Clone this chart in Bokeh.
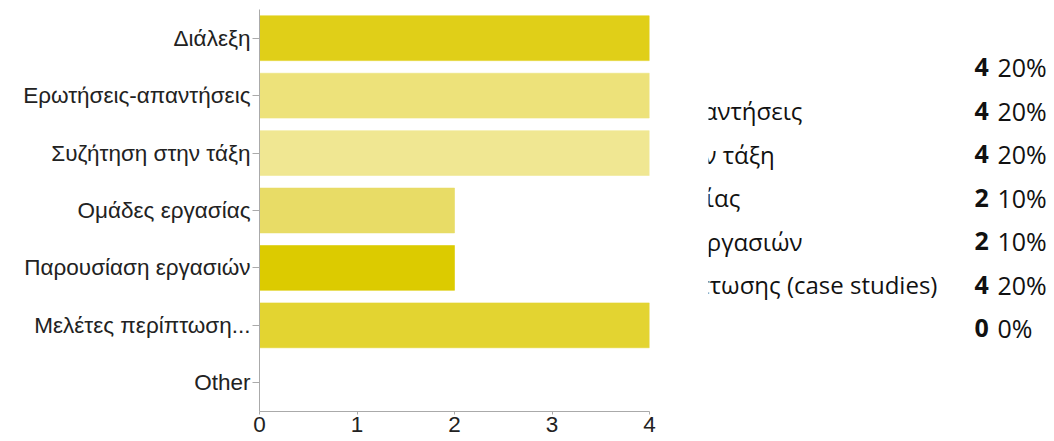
from bokeh.plotting import figure
from bokeh.layouts import row
from bokeh.models import Range1d, FactorRange, ColumnDataSource, FixedTicker
from bokeh.core.properties import value
from bokeh.embed import file_html
from bokeh.resources import INLINE

# ---- data ----
categories = ["Διάλεξη", "Ερωτήσεις-απαντήσεις", "Συζήτηση στην τάξη",
              "Ομάδες εργασίας", "Παρουσίαση εργασιών", "Μελέτες περίπτωση...", "Other"]
full_labels = ["Διάλεξη", "Ερωτήσεις-απαντήσεις", "Συζήτηση στην τάξη",
               "Ομάδες εργασίας", "Παρουσίαση εργασιών",
               "Μελέτες περίπτωσης (case studies)", "Other"]
counts = [4, 4, 4, 2, 2, 4, 0]
percents = ["20%", "20%", "20%", "10%", "10%", "20%", "0%"]
bar_colors = ["#E0CF18", "#EDE27A", "#F0E792", "#E8DC66", "#DCCB00", "#E3D431", "#E0CF18"]
x_ticks = [0, 1, 2, 3, 4]

FIG_H = 440
TOP, BOTTOM = 9, 29
FRAME_H = FIG_H - TOP - BOTTOM

# ---- left: bar chart ----
src = ColumnDataSource(dict(cat=categories, count=counts, color=bar_colors))

p = figure(width=708, height=FIG_H, output_backend="svg", toolbar_location=None,
           y_range=FactorRange(factors=list(reversed(categories)), range_padding=0),
           x_range=Range1d(0, 4),
           min_border_left=259, min_border_right=59, min_border_top=TOP, min_border_bottom=BOTTOM)
p.hbar(y="cat", left=0, right="count", height=0.78, source=src,
       fill_color="color", line_color="color", line_alpha=0.6)

p.outline_line_color = None
p.grid.visible = False
for ax in (p.xaxis[0], p.yaxis[0]):
    ax.axis_line_color = "#AAAAAA"
    ax.major_tick_line_color = "#AAAAAA"
    ax.minor_tick_line_color = None
    ax.major_tick_in = 0
    ax.major_label_text_font = "Liberation Sans"
    ax.major_label_text_font_size = "22.5px"
    ax.major_label_text_color = "#222222"
p.yaxis.major_tick_out = 7
p.yaxis.major_label_standoff = 2
p.xaxis.major_tick_out = 3
p.xaxis.major_label_standoff = 2
p.xaxis.ticker = FixedTicker(ticks=x_ticks)

# ---- right: response table (partly hidden behind the chart) ----
ROW_PX = 43.5
first_row_px = 57.5
y_top = -first_row_px / ROW_PX
y_bottom = y_top + FRAME_H / ROW_PX

tsrc = ColumnDataSource(dict(row=list(range(len(full_labels))), lab=full_labels,
                             num=[str(c) for c in counts], pct=percents))
q = figure(width=343, height=FIG_H, output_backend="svg", toolbar_location=None,
           x_range=Range1d(0, 343),
           y_range=Range1d(start=y_bottom, end=y_top),
           x_axis_location=None, y_axis_location=None,
           min_border_left=0, min_border_right=0, min_border_top=TOP, min_border_bottom=BOTTOM)
q.outline_line_color = None
q.grid.visible = False
q.text(x=-162, y="row", text="lab", source=tsrc, text_font=value("Open Sans"),
       text_font_size="24px", text_baseline="middle", text_color="#111111")
q.text(x=266, y="row", text="num", source=tsrc, text_font=value("Open Sans"),
       text_font_size="25px", text_font_style="bold", text_baseline="middle", text_color="#111111")
q.text(x=289, y="row", text="pct", source=tsrc, text_font=value("Open Sans"),
       text_font_size="25px", text_baseline="middle", text_color="#111111")

layout = row(p, q, spacing=0)
open("out.html", "w").write(file_html(layout, INLINE))
